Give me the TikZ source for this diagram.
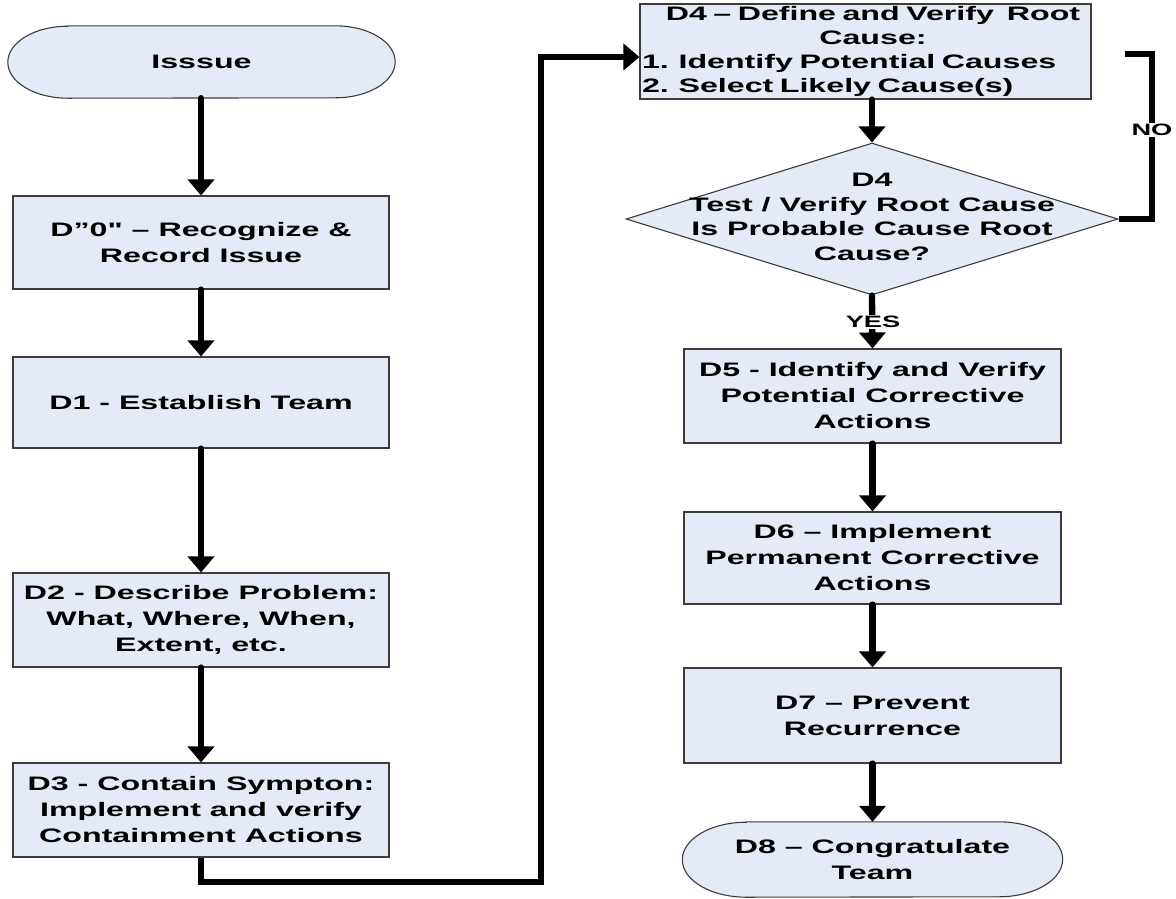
\documentclass[tikz,border=0pt]{standalone}
\usepackage{fontspec}
\setmainfont{Liberation Sans}[FakeStretch=1.65,Ligatures=TeXOff]
\usetikzlibrary{arrows.meta,shapes.geometric,backgrounds}
\definecolor{boxfill}{HTML}{E4EBF6}
\definecolor{boxline}{HTML}{3C3C3C}
\begin{document}
\begin{tikzpicture}[x=1pt,y=-1pt,
  txtfont/.style={font=\bfseries\fontsize{19.5}{26}\selectfont},
  box/.style={rectangle,draw=boxline,fill=boxfill,line width=1.1pt,align=center,inner sep=2pt,txtfont},
  termtext/.style={rectangle,align=center,inner sep=0pt,txtfont},
  termshape/.style={draw=boxline,fill=boxfill,line width=1.1pt},
  dec/.style={diamond,draw=boxline,fill=boxfill,line width=1.1pt,inner sep=0pt},
  flow/.style={line width=6.3pt,line cap=round,-{Triangle[width=26pt,length=16pt]}},
  plain/.style={line width=6.3pt,line cap=round},
  lbl/.style={fill=white,inner sep=1.5pt,font=\bfseries\fontsize{16.5}{18}\selectfont}
]
\useasboundingbox (0,0) rectangle (1176,898);

% left column
\node[termtext,minimum width=387pt,minimum height=72pt] (iss) at (201.5,62) {Isssue};
\node[box,minimum width=376pt,minimum height=93pt] (d0) at (201,242.5) {D”0" – Recognize \&\\Record Issue};
\node[box,minimum width=376pt,minimum height=91pt] (d1) at (201,402.5) {D1 - Establish Team};
\node[box,minimum width=376pt,minimum height=94pt] (d2) at (201,620) {D2 - Describe Problem:\\What, Where, When,\\Extent, etc.};
\node[box,minimum width=376pt,minimum height=94pt] (d3) at (201,810) {D3 - Contain Sympton:\\Implement and verify\\Containment Actions};

% right column
\node[box,minimum width=451pt,minimum height=95pt,text width=447pt,font=\bfseries\fontsize{19.5}{24}\selectfont] (d4) at (865.5,51.5)
  {\hspace*{15pt}D4 – Define and Verify\ \ Root\\\hspace*{15pt}Cause:\\\makebox[\linewidth][l]{1. Identify Potential Causes}\\\makebox[\linewidth][l]{2. Select Likely Cause(s)}};
\node[dec,minimum width=492pt,minimum height=152pt] (dia) at (872,219) {};
\node[termtext,font=\bfseries\fontsize{19.5}{24.5}\selectfont] (diat) at (872,217) {D4\\Test / Verify Root Cause\\Is Probable Cause Root\\Cause?};
\node[box,minimum width=377pt,minimum height=94pt] (d5) at (872.5,396) {D5 - Identify and Verify\\Potential Corrective\\Actions};
\node[box,minimum width=377pt,minimum height=92pt] (d6) at (872.5,558) {D6 – Implement\\Permanent Corrective\\Actions};
\node[box,minimum width=377pt,minimum height=95pt] (d7) at (872.5,715.5) {D7 – Prevent\\Recurrence};
\node[termtext,minimum width=380pt,minimum height=75pt] (d8) at (872.5,859.5) {D8 – Congratulate\\Team};

% terminator outlines
\begin{pgfonlayer}{background}
\filldraw[termshape] ([xshift=60pt]iss.north west) -- ([xshift=-60pt]iss.north east)
  arc[start angle=90,end angle=-90,x radius=60pt,y radius=36pt]
  -- ([xshift=60pt]iss.south west)
  arc[start angle=270,end angle=90,x radius=60pt,y radius=36pt] -- cycle;
\filldraw[termshape] ([xshift=64pt]d8.north west) -- ([xshift=-64pt]d8.north east)
  arc[start angle=90,end angle=-90,x radius=64pt,y radius=37.5pt]
  -- ([xshift=64pt]d8.south west)
  arc[start angle=270,end angle=90,x radius=64pt,y radius=37.5pt] -- cycle;
\end{pgfonlayer}

% connectors left
\draw[flow] (iss.south -| d0.north) -- (d0.north);
\draw[flow] (d0.south) -- (d1.north);
\draw[flow] (d1.south) -- (d2.north);
\draw[flow] (d2.south) -- (d3.north);
\coordinate (lb) at (541,882);
\coordinate (lt) at (541,57);
\draw[flow,line cap=butt] (d3.south) |- (lb) -- (lt) -- (lt -| d4.west);

% connectors right
\draw[flow] (d4.south -| dia.north) -- (dia.north);
\coordinate (nr) at (1152,54);
\coordinate (nl) at (1125,54);
\draw[plain,line cap=butt] (dia.east) -| (nr) -- (nl);
\node[lbl] (no) at (1152,130) {NO};
\draw[flow] (dia.south) -- (d5.north);
\node[lbl] (yes) at (873,322) {YES};
\draw[flow] (d5.south) -- (d6.north);
\draw[flow] (d6.south) -- (d7.north);
\draw[flow] (d7.south) -- (d8.north);
\end{tikzpicture}
\end{document}
